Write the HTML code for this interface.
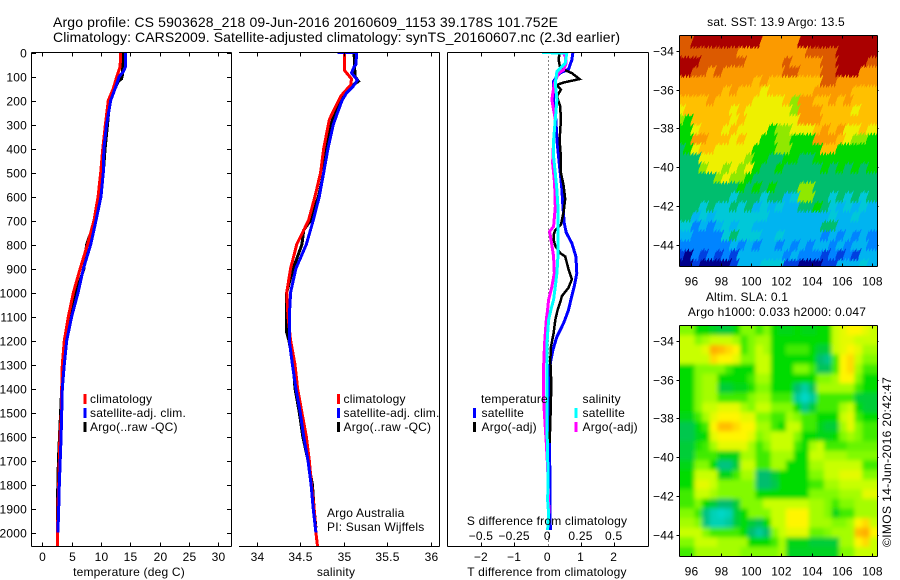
<!DOCTYPE html>
<html>
<head>
<meta charset="utf-8">
<title>Argo profile</title>
<style>
html,body{margin:0;padding:0;background:#fff;}
svg{display:block;}
text{font-family:"Liberation Sans",sans-serif;font-size:12px;fill:#000;letter-spacing:.2px;}
.title{font-size:14px;letter-spacing:0;}
</style>
</head>
<body>
<svg id="chart" xmlns="http://www.w3.org/2000/svg" width="900" height="580" viewBox="0 0 900 580">
  <defs>
    <clipPath id="clipMap1"><rect x="679.5" y="35.5" width="198" height="231"/></clipPath>
    <clipPath id="clipMap2"><rect x="679.5" y="325.5" width="198" height="231"/></clipPath>
    <clipPath id="clipP1"><rect x="32" y="52" width="200" height="495"/></clipPath>
    <clipPath id="clipP2"><rect x="239" y="52" width="201" height="495"/></clipPath>
    <clipPath id="clipP3"><rect x="447" y="52" width="202" height="495"/></clipPath>
    <filter id="smooth" x="-10%" y="-10%" width="120%" height="120%"><feGaussianBlur stdDeviation="2"/></filter>
  </defs>
  <rect x="0" y="0" width="900" height="580" fill="#fff"/>
  <text class="title" x="53" y="27" textLength="505">Argo profile: CS 5903628_218 09-Jun-2016 20160609_1153 39.178S 101.752E</text>
  <text class="title" x="53" y="42" textLength="567">Climatology: CARS2009. Satellite-adjusted climatology: synTS_20160607.nc (2.3d earlier)</text>

  <g id="p1"></g>
  <g id="p2"></g>
  <g id="p3"></g>
  <g id="m1"></g>
  <g id="m2"></g>

  <text x="129" y="576" text-anchor="middle">temperature (deg C)</text>
  <text x="336" y="576" text-anchor="middle">salinity</text>
  <text x="547" y="576" text-anchor="middle">T difference from climatology</text>
  <text x="547" y="525" text-anchor="middle">S difference from climatology</text>
  <text x="327" y="517">Argo Australia</text>
  <text x="327" y="531">PI: Susan Wijffels</text>
  <text x="776" y="26" text-anchor="middle">sat. SST: 13.9 Argo: 13.5</text>
  <text x="747" y="301" text-anchor="middle">Altim. SLA: 0.1</text>
  <text x="777" y="316" text-anchor="middle">Argo h1000: 0.033 h2000: 0.047</text>
  <text transform="translate(891 547) rotate(-90)" textLength="170">©IMOS 14-Jun-2016 20:42:47</text>
</svg>
<script>
// ---- temperature panel data ----
const tempClimDepth = [0,60,100,150,200,300,400,500,600,700,800,900,1000,1100,1200,1300,1400,1500,1600,1700,1800,1900,2000,2060];
const tempClimValues = [13.35,13.25,12.7,12.1,11.25,10.75,10.3,9.95,9.5,8.8,7.7,6.45,5.3,4.45,3.75,3.4,3.3,3.25,3.0,2.9,2.8,2.65,2.6,2.6];
const tempSatDepth = [0,60,80,100,150,200,300,400,500,600,700,800,900,1000,1100,1200,1300,1400,1500,1600,1700,1800,1900,2000];
const tempSatValues = [14.15,14.15,13.8,13.1,12.4,11.65,10.95,10.5,10.4,10.0,9.15,8.25,7.0,6.1,5.0,4.15,3.75,3.4,3.3,3.2,3.05,2.9,2.8,2.65];
const tempArgoDepth = [0,90,110,120,200,300,400,500,600,700,800,900,1000,1100,1200,1300,1400,1700,1900,1950];
const tempArgoValues = [13.7,13.7,13.5,12.95,11.5,11.1,10.7,10.4,9.95,9.0,7.55,7.1,5.75,4.6,4.0,3.6,3.3,2.75,2.55,2.55];
const tempTicks = [0,5,10,15,20,25,30];
const depthTicks = [0,100,200,300,400,500,600,700,800,900,1000,1100,1200,1300,1400,1500,1600,1700,1800,1900,2000];

// ---- salinity panel data ----
const salClimDepth = [0,75,110,135,180,230,280,400,500,600,700,800,900,1000,1100,1200,1300,1400,1500,1600,1700,1800,1900,2000,2060];
const salClimValues = [35.01,35.01,35.09,35.08,34.97,34.90,34.835,34.77,34.735,34.67,34.595,34.46,34.39,34.345,34.36,34.39,34.44,34.47,34.52,34.57,34.605,34.63,34.66,34.68,34.70];
const salSatDepth = [0,1,50,60,85,115,140,170,200,250,300,400,500,600,700,800,900,1000,1100,1200,1300,1400,1500,1600,1700,1800,1900,2000];
const salSatValues = [34.93,35.15,35.14,35.12,35.09,35.157,35.11,35.03,34.98,34.93,34.88,34.82,34.77,34.72,34.65,34.57,34.45,34.39,34.375,34.375,34.41,34.45,34.5,34.54,34.59,34.625,34.65,34.68];
const salArgoDepth = [0,100,120,150,180,300,400,500,600,700,740,800,900,1000,1100,1160,1200,1300,1400,1500,1600,1700,1800,1900,1980];
const salArgoValues = [35.12,35.13,35.17,35.05,34.98,34.85,34.8,34.77,34.71,34.62,34.54,34.52,34.42,34.345,34.34,34.34,34.37,34.42,34.44,34.49,34.53,34.59,34.64,34.66,34.68];
const salTicks = [34,34.5,35,35.5,36];

// ---- difference panel data ----
const dtSatDepth = [0,30,70,85,100,120,200,280,365,435,500,570,640,710,750,795,850,920,975,1030,1073,1128,1184,1239,1295,1350,1642,1990];
const dtSatValues = [0.77,0.74,0.64,0.39,0.29,0.19,0.19,0.26,0.29,0.34,0.39,0.44,0.47,0.51,0.57,0.74,0.86,0.89,0.81,0.71,0.64,0.49,0.29,0.17,0.09,0.07,0.07,0.09];
const dtArgoDepth = [0,30,65,86,111,125,135,155,183,225,280,365,435,500,555,610,665,718,740,760,780,806,836,850,903,945,980,1015,1031,1073,1114,1170,1225,1281,1350,1434,1545,1628];
const dtArgoValues = [0.37,0.34,0.39,0.74,0.97,0.49,0.29,0.41,0.29,0.39,0.41,0.37,0.41,0.41,0.49,0.54,0.49,0.41,0.24,0.19,0.19,0.24,0.39,0.54,0.64,0.74,0.64,0.44,0.41,0.31,0.24,0.19,0.11,0.09,0.11,0.11,0.09,0.07];
const dsSatDepth = [0,3,45,80,128,197,280,364,434,503,572,642,711,781,850,920,975,1030,1070,1114,1211,1295,1586,1642,1809,1864,1920,1990];
const dsSatValues = [-0.04,0.147,0.135,0.0725,0.06,0.0725,0.06,0.0475,0.0475,0.06,0.0725,0.08,0.08,0.08,0.08,0.0725,0.06,0.0475,0.0275,0.01,-0.0025,-0.0025,-0.0025,0.0025,0.005,0.0025,0.01,0.0025];
const dsArgoDepth = [0,17,45,72,86,128,197,280,364,461,544,642,725,746,780,850,920,975,1030,1072,1114,1211,1309,1448,1517,1628,1725,1920];
const dsArgoValues = [0.12,0.135,0.1425,0.1225,0.085,0.0525,0.035,0.06,0.0475,0.04,0.055,0.06,0.0475,0.0175,0.0275,0.0475,0.0525,0.035,0.01,0.0025,-0.0075,-0.02,-0.0275,-0.0275,-0.02,-0.0075,0.0025,0.0125];
const dtTicks = [-2,-1,1,2];
const dtTickLabels = [-2,-1,0,1,2];
const dsTickLabels = [-0.5,-0.25,0,0.25,0.5];

// ---- map data ----
const lonTicks = [96,98,100,102,104,106,108];
const latTicks = [-34,-36,-38,-40,-42,-44];
const sstRows = [
[11,11,12,12,12,12,12,12,12,12,12,10,10,10,10,10,12,12,12,12,12,12,12,12,12,12],
[11,11,11,11,11,11,11,11,10,10,10,10,10,10,10,10,10,11,11,11,11,12,12,12,12,12],
[12,12,12,11,11,11,11,11,11,10,10,10,10,10,11,10,10,10,10,11,11,12,12,12,12,11],
[12,12,11,11,10,11,10,10,10,10,10,10,10,10,11,11,10,10,10,11,11,12,12,12,10,10],
[10,10,10,10,10,10,10,10,10,10,9,10,9,9,9,9,9,9,9,11,11,10,10,10,10,10],
[10,10,10,10,10,10,9,10,9,9,9,8,9,9,9,9,9,9,10,10,10,10,10,9,9,9],
[9,9,9,9,10,9,9,9,9,9,8,8,8,8,9,7,10,10,9,9,10,9,10,9,9,9],
[8,9,9,9,9,9,9,8,9,8,8,8,8,8,8,7,10,10,10,9,9,9,9,8,9,9],
[7,6,9,9,9,9,9,8,9,8,8,8,8,8,8,8,10,10,10,9,9,9,9,9,9,9],
[6,6,8,9,9,9,8,9,8,8,8,8,6,7,7,8,8,8,9,10,9,10,8,8,9,8],
[6,6,10,10,9,9,9,8,9,8,8,6,6,7,7,6,6,6,10,10,10,9,8,7,7,6],
[5,6,8,9,9,8,8,8,8,8,6,6,6,7,7,6,6,6,6,9,9,6,6,6,6,6],
[5,5,5,8,8,8,8,8,8,7,6,6,5,5,6,6,5,5,6,6,6,6,6,6,6,6],
[5,5,5,7,8,8,7,8,7,8,6,5,5,6,5,5,5,5,5,6,5,6,5,6,5,6],
[5,5,5,5,5,7,8,7,7,6,5,5,5,5,5,5,5,5,5,5,5,5,5,5,5,5],
[5,5,5,5,5,5,5,5,6,5,6,5,6,5,5,5,7,7,5,5,5,5,5,5,5,5],
[5,5,5,5,5,5,5,4,5,5,5,4,5,5,3,4,7,7,5,5,4,5,4,5,4,5],
[5,5,5,4,5,4,4,5,4,5,3,4,3,4,3,3,5,5,6,5,4,3,4,3,4,3],
[5,5,3,4,3,4,4,4,4,4,4,4,3,3,3,3,3,3,3,3,4,3,3,4,3,3],
[4,4,2,3,2,3,4,3,4,4,3,3,3,3,3,3,3,3,3,5,5,3,3,3,3,3],
[3,3,2,2,2,2,4,5,4,4,4,3,3,4,3,3,3,3,3,2,3,2,3,2,3,2],
[2,2,2,2,2,2,2,3,2,3,2,3,3,2,3,2,3,2,3,3,2,3,2,3,3,2],
[1,0,2,1,2,1,2,1,3,3,3,3,3,3,2,3,2,2,2,1,2,1,2,1,3,3],
[0,0,1,0,0,0,0,1,3,3,3,4,4,4,1,1,0,0,0,1,1,3,3,3,4,3]
];
const slaRows = [
[3,3,2,2,1.7,1.5,1.5,2,3,3,2.5,3,2,1.8,1.8,2,1.8,1.8,2,2,4,4.5,5,5,4.5,4],
[4,4,3,3.5,4,4,4,3.5,2.5,3,3.5,3.5,2,2,2,2,2,2,2,2,4,4.5,4.5,4,4,4],
[4,4,4,4.5,6.5,6,5.5,5,2.5,3,4,3.5,2,2,2.5,2.5,2.5,2,1.5,1.5,4,4.5,5,4.5,3.5,3.5],
[4,4,4,4,5.5,5,5,4.5,3,3,4,4,2,2,2,2,2,2,1,0.7,2.5,5,5.5,4,3,3],
[2,2,3,3,3,3,2.5,2,2,2,4,4,2,2,2,3,3,2.5,1.2,1.2,2.5,5,5.5,3.5,2.5,2.5],
[2,2,3,3.5,3.5,2,2,2,2,2.5,3.5,3.5,2,2,2,2,2,2,3,3,3.5,5,5,3,2,2],
[2,2,3,3.5,3.5,1.5,1.5,1.8,1.8,2.2,3,3,2,2,2,1,0.4,1.2,3.5,3.5,3.5,3.5,3.5,2.5,2,2],
[2,2,3,3.5,3.5,2.5,2.5,2.5,2.5,3,3.5,3.5,2.5,2.5,2.5,0.5,0,0.5,2.5,2.5,2.5,2.5,2.5,1.5,1.5,1.5],
[2,2,3,4,4,4.5,4.5,4.5,3.5,3,4,4,3,3,3,2,0.7,1.5,2.5,2.5,2.5,3.5,4,2,1.5,1.5],
[1.8,1.8,2.5,3.5,4.5,5,5,5,4.5,4.5,3,3,2.5,2.5,3.5,3,2.5,2.5,2,2,2,4,4.5,2.5,2,2],
[1.3,1.3,2,2.5,5,6,6,5.5,5,5,3.5,3.5,2.5,2,4,4,2.5,2.5,1.8,1.5,1.5,3.5,4.5,3,2.5,2.5],
[1.3,1.3,1.8,2,4.5,5,5,5,5,4.5,3,3.5,4,4,4,3,2,2,1.8,1.8,2,3,3.5,3,2.5,2.5],
[1.5,1.5,2.2,2.5,3.5,4.5,4.5,4.5,4.5,3.5,2.5,3,4,4,4,2.5,2,3.5,4,2.5,2.5,2.5,2.8,2.8,2.8,2.8],
[1.5,1.5,2.5,2.5,2.5,1.8,1.8,1.8,3.5,3.5,2.5,2.5,3.5,3.5,3.5,2,2,4,4,3.5,3.5,3.5,3,3,3,3],
[1.8,1.8,3,3,2,0.8,0.8,1.5,4,4,2.5,2.5,3.5,3.5,2,2,2,3.5,3.5,4,4,4,4,4,2.5,2.5],
[2,2,4,4,4,1.8,1.8,2.5,3.5,3.5,1,1,1.5,2,2,2,2,3,3,4,4,4.5,4.5,4.5,3,3],
[2,2,4.5,4.5,4,3,3,3,3,3,1,1,1.3,2,2,2,2,2.5,2.5,3.5,3.5,4,4,4,4,4],
[2.5,2.5,4,4,3.5,3,3,3,3,3,2,2,2,2,2,2,2,3,3,3,3,3.5,3.5,3.5,4.5,4.5],
[2.5,2.5,3,2,1.5,1,1,1.5,3,3,3,4,4,4,4,4,4,3.5,3.5,3,2.5,3,3,3.5,3.5,3.5],
[3,3,2.5,0.8,0.2,0,0.2,1.5,2,3,3,3,4,4,5,5,5,3.5,3.5,3,1.8,2.5,2.5,3.5,3.5,3.5],
[3.5,3.5,3,0.8,0.2,0.2,0.5,1.5,2,1.5,1.2,2,4,4,5,5,5,3.5,3.5,3.5,3,3,3.5,5,5.5,4],
[4,4,4,3,2.5,2.5,2.5,2.5,2,1,0.5,1,3,4,4.5,4.5,4.5,2.8,2.8,3,3.5,3.5,3.5,6,6.5,5],
[3,3,4,4,4,3.5,3.5,3.5,3.5,2,2,2,2.5,3.5,1.8,1.8,1.8,1.5,1.5,1.5,1.5,3.5,3.5,5,5.5,4],
[2.5,2.5,3.5,3.5,3.5,3.5,3.5,3.5,3,3,3,3,3,3.5,1.7,1.7,1.7,1.7,1.7,1.7,1.7,3,3,4,4,4]
];
const sstPalette = ['#00008c','#0040e0','#0084ff','#00b4f0','#00c8d8','#00be6e','#00d800','#90e800','#eef000','#ffc000','#fb9a00','#dc5a00','#aa0000'];
const slaPalette = [[0,215,200],[0,190,110],[0,220,0],[130,250,0],[200,255,0],[255,245,0],[255,190,0],[255,160,0]];

// ---- scales ----
const NS = 'http://www.w3.org/2000/svg';
const yDepth = d => 52.5 + d * 0.24;
const xTemp = v => 42.3 + v * 5.87;
const xSal = v => 256.7 + (v - 34) * 87;
const xDT = v => 547.3 + v * 33.2;
const xDS = v => 547.3 + v * 132.8;
const xLon = v => 691.3 + (v - 96) * 15.03;
const yLat1 = v => 50.7 + (-34 - v) * 19.43;
const yLat2 = v => 340.7 + (-34 - v) * 19.43;

function mk(tag, attrs, parent, txt) {
  const e = document.createElementNS(NS, tag);
  for (const k in attrs) e.setAttribute(k, attrs[k]);
  if (txt !== undefined) e.textContent = txt;
  parent.appendChild(e);
  return e;
}
function fmt(v) { return String(v).replace('-', '\u2212'); }

function seg(parent, x1, y1, x2, y2, name) {
  const el = mk('line', {x1, y1, x2, y2, stroke: '#000', 'stroke-width': 1, 'shape-rendering': 'crispEdges'}, parent);
  
  
  return el;
}
function label(parent, x, y, anchor, str, name) {
  const el = mk('text', {x, y, 'text-anchor': anchor}, parent, str);
  
  
  return el;
}
function series(parent, depth, vals, xf, color, clip, name, width) {
  const pts = depth.map((d, i) => xf(vals[i]).toFixed(1) + ',' + yDepth(d).toFixed(1)).join(' ');
  const el = mk('polyline', {points: pts, fill: 'none', stroke: color, 'stroke-width': width || 3, 'clip-path': 'url(#' + clip + ')', 'stroke-linejoin': 'miter', 'shape-rendering': 'crispEdges'}, parent);
  
  
}
function legendRow(parent, sx, tx, cy, color, str, name) {
  const sw = mk('rect', {x: sx, y: cy - 5, width: 3, height: 10, fill: color, 'shape-rendering': 'crispEdges'}, parent);
  
  
  label(parent, tx, cy + 4, 'start', str, name + '-label');
}

const TOP = 52.5, BOT = 546.5;

// ---- panel 1 ----
const p1 = document.getElementById('p1');
series(p1, tempArgoDepth, tempArgoValues, xTemp, '#000', 'clipP1', 'temperature-argo-line');
series(p1, tempClimDepth, tempClimValues, xTemp, '#f00', 'clipP1', 'temperature-climatology-line');
series(p1, tempSatDepth, tempSatValues, xTemp, '#00f', 'clipP1', 'temperature-satellite-line');
seg(p1, 31.5, TOP, 231.5, TOP, 'panel-top-border');
seg(p1, 31.5, BOT, 231.5, BOT, 'panel-bottom-border');
seg(p1, 31.5, TOP, 31.5, BOT, 'panel-left-border');
seg(p1, 231.5, TOP, 231.5, BOT, 'panel-right-border');
depthTicks.forEach(d => {
  const y = Math.round(yDepth(d)) + 0.5;
  seg(p1, 31.5, y, 36, y, 'depth-tick');
  seg(p1, 227, y, 231.5, y, 'depth-tick-right');
  label(p1, 27, y + 4, 'end', String(d), 'depth-tick-label');
});
tempTicks.forEach(t => {
  const x = Math.round(xTemp(t)) + 0.5;
  seg(p1, x, TOP, x, TOP + 4, 'temperature-tick-top');
  seg(p1, x, BOT, x, BOT - 4, 'temperature-tick-bottom');
  label(p1, x, 561, 'middle', String(t), 'temperature-tick-label');
});
legendRow(p1, 83.5, 90, 399, '#f00', 'climatology', 'temperature-legend-climatology');
legendRow(p1, 83.5, 90, 413, '#00f', 'satellite-adj. clim.', 'temperature-legend-satellite');
legendRow(p1, 83.5, 90, 427, '#000', 'Argo(..raw -QC)', 'temperature-legend-argo');

// ---- panel 2 ----
const p2 = document.getElementById('p2');
series(p2, salArgoDepth, salArgoValues, xSal, '#000', 'clipP2', 'salinity-argo-line');
series(p2, salClimDepth, salClimValues, xSal, '#f00', 'clipP2', 'salinity-climatology-line');
series(p2, salSatDepth, salSatValues, xSal, '#00f', 'clipP2', 'salinity-satellite-line');
seg(p2, 239, TOP, 439.5, TOP, 'panel-top-border');
seg(p2, 239, BOT, 439.5, BOT, 'panel-bottom-border');
seg(p2, 439.5, TOP, 439.5, BOT, 'panel-right-border');
salTicks.forEach(t => {
  const x = Math.round(xSal(t)) + 0.5;
  seg(p2, x, TOP, x, TOP + 4, 'salinity-tick-top');
  seg(p2, x, BOT, x, BOT - 4, 'salinity-tick-bottom');
  label(p2, x, 561, 'middle', String(t), 'salinity-tick-label');
});
legendRow(p2, 337, 343.5, 399, '#f00', 'climatology', 'salinity-legend-climatology');
legendRow(p2, 337, 343.5, 413, '#00f', 'satellite-adj. clim.', 'salinity-legend-satellite');
legendRow(p2, 337, 343.5, 427, '#000', 'Argo(..raw -QC)', 'salinity-legend-argo');

// ---- panel 3 ----
const p3 = document.getElementById('p3');
const zero = mk('line', {x1: xDT(0) + 1, y1: TOP, x2: xDT(0) + 1, y2: BOT, stroke: '#000', 'stroke-width': 1, 'stroke-dasharray': '1 3', 'shape-rendering': 'crispEdges'}, p3);


series(p3, dtSatDepth, dtSatValues, xDT, '#00f', 'clipP3', 't-difference-satellite-line');
series(p3, dtArgoDepth, dtArgoValues, xDT, '#000', 'clipP3', 't-difference-argo-line', 2.5);
series(p3, dsArgoDepth, dsArgoValues, xDS, '#f0f', 'clipP3', 's-difference-argo-line');
series(p3, dsSatDepth, dsSatValues, xDS, '#0ff', 'clipP3', 's-difference-satellite-line');
seg(p3, 447.5, TOP, 648.5, TOP, 'panel-top-border');
seg(p3, 447.5, BOT, 648.5, BOT, 'panel-bottom-border');
seg(p3, 447.5, TOP, 447.5, BOT, 'panel-left-border');
seg(p3, 648.5, TOP, 648.5, BOT, 'panel-right-border');
dtTicks.forEach(t => {
  const x = Math.round(xDT(t)) + 0.5;
  seg(p3, x, TOP, x, TOP + 4, 'difference-tick-top');
  seg(p3, x, BOT, x, BOT - 4, 'difference-tick-bottom');
});
dtTickLabels.forEach(t => {
  label(p3, xDT(t), 561, 'middle', fmt(t), 't-difference-tick-label');
});
dsTickLabels.forEach(t => {
  label(p3, xDS(t), 540, 'middle', fmt(t), 's-difference-tick-label');
});
label(p3, 481, 403, 'start', 'temperature', 'difference-legend-temperature-heading');
label(p3, 582.5, 403, 'start', 'salinity', 'difference-legend-salinity-heading');
legendRow(p3, 473, 481.5, 413, '#00f', 'satellite', 'difference-legend-t-satellite');
legendRow(p3, 473, 481.5, 427, '#000', 'Argo(-adj)', 'difference-legend-t-argo');
legendRow(p3, 574.5, 582.5, 413, '#0ff', 'satellite', 'difference-legend-s-satellite');
legendRow(p3, 574.5, 582.5, 427, '#f0f', 'Argo(-adj)', 'difference-legend-s-argo');

// ---- maps ----
const LON0 = 95.2, LON1 = 108.375, LAT0 = -33.19;
function cellShape(x0, x1, y0, y1, jagged) {
  if (!jagged) {
    return x0.toFixed(1) + ',' + y0.toFixed(1) + ' ' + x1.toFixed(1) + ',' + y0.toFixed(1) + ' ' + x1.toFixed(1) + ',' + y1.toFixed(1) + ' ' + x0.toFixed(1) + ',' + y1.toFixed(1);
  }
  // slanted cell with a saw-tooth lower edge, like the pixel-stepped contouring of the source map
  const pts = [[x0, y0], [x1, y0], [x1 - 3, y1]];
  for (let tx = x1 - 3; tx > x0 - 3; tx -= 3) {
    pts.push([tx - 3, y1 + 4]);
    pts.push([tx - 3, y1]);
  }
  return pts.map(p => p[0].toFixed(1) + ',' + p[1].toFixed(1)).join(' ');
}
function drawMap(host, rows, yLat, latStep, top, bottom, clip, colorOf, smooth, mapName) {
  const clipG = mk('g', {'clip-path': 'url(#' + clip + ')'}, host);
  
  
  const g = mk('g', smooth ? {filter: 'url(#smooth)'} : {'shape-rendering': 'crispEdges'}, clipG);
  const lonStep = (LON1 - LON0) / rows[0].length;
  for (let r = rows.length - 1; r >= 0; r--) {
    const row = rows[r];
    row.forEach((v, c) => {
      let x0 = xLon(LON0 + c * lonStep), x1 = xLon(LON0 + (c + 1) * lonStep);
      let y0 = yLat(LAT0 - r * latStep), y1 = yLat(LAT0 - (r + 1) * latStep);
      if (smooth) {
        if (c === 0) x0 -= 14;
        if (c === row.length - 1) x1 += 14;
        if (r === 0) y0 -= 14;
        if (r === rows.length - 1) y1 += 14;
      } else {
        if (c === 0) x0 -= 6;
        if (c === row.length - 1) x1 += 6;
      }
      const cell = mk('polygon', {points: cellShape(x0, x1 + 0.6, y0, y1 + 0.6, !smooth), fill: colorOf(v)}, g);
      
      
    });
  }
  const L = 679.5, R = 877.5;
  seg(host, L, top, R, top, 'map-top-border');
  seg(host, L, bottom, R, bottom, 'map-bottom-border');
  seg(host, L, top, L, bottom, 'map-left-border');
  seg(host, R, top, R, bottom, 'map-right-border');
  lonTicks.forEach(t => {
    const x = Math.round(xLon(t)) + 0.5;
    seg(host, x, top, x, top + 3, 'longitude-tick-top');
    seg(host, x, bottom, x, bottom - 3, 'longitude-tick-bottom');
    label(host, x, bottom + 19, 'middle', String(t), 'longitude-tick-label');
  });
  latTicks.forEach(t => {
    const y = Math.round(yLat(t)) + 0.5;
    seg(host, L - 3, y, L, y, 'latitude-tick-left');
    seg(host, R, y, R + 1, y, 'latitude-tick-right');
    label(host, 674, y + 4, 'end', fmt(t), 'latitude-tick-label');
  });
}
function slaColor(v) {
  const i = Math.min(Math.floor(v), slaPalette.length - 2), f = v - i;
  const a = slaPalette[i], b = slaPalette[i + 1];
  return 'rgb(' + a.map((ch, k) => Math.round(ch + (b[k] - ch) * f)).join(',') + ')';
}
drawMap(document.getElementById('m1'), sstRows, yLat1, (45.12 - 33.19) / 24, 35.5, 266.5, 'clipMap1', v => sstPalette[v], false, 'sst-map');
drawMap(document.getElementById('m2'), slaRows, yLat2, (45.08 - 33.19) / 24, 325.5, 556.5, 'clipMap2', slaColor, true, 'sla-map');
</script>
</body>
</html>
